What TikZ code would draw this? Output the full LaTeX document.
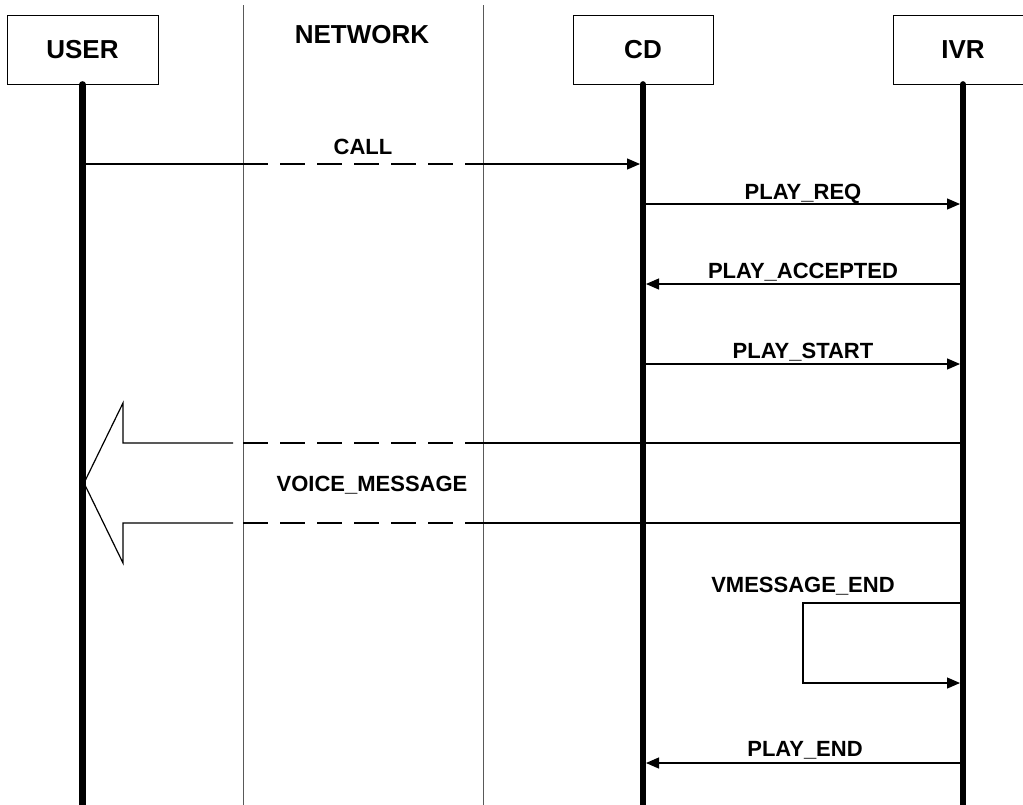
\documentclass[tikz,border=0pt]{standalone}
\usepackage{fontspec}
\setmainfont{Liberation Sans}
\usetikzlibrary{arrows.meta}

\begin{document}
\begin{tikzpicture}[x=1pt,y=-1pt,
  actor/.style={draw, line width=0.8pt, minimum width=140pt, minimum height=69pt, inner sep=0pt, font=\fontsize{26}{30}\selectfont\bfseries},
  lifeline/.style={line width=6.5pt, line cap=round},
  netline/.style={line width=1pt, black!65},
  thin/.style={line width=1.2pt},
  msg/.style={line width=1.2pt, -{Triangle[length=13pt,width=11pt]}, shorten >=3pt},
  netdash/.style={line width=2.5pt, dash pattern=on 25pt off 12pt},
  lbl/.style={anchor=base, inner sep=0pt, font=\fontsize{22}{26}\selectfont\bfseries}]
\useasboundingbox (0,0) rectangle (1023,804);

% actors
\node[actor, minimum width=151pt] (user) at (82.5,49.5) {USER};
\node[actor] (cd) at (643,49.5) {CD};
\node[actor] (ivr) at (963,49.5) {IVR};
\node[lbl, font=\fontsize{26}{30}\selectfont\bfseries] (network) at (362,43) {NETWORK};

% network borders
\coordinate (netL) at (243,5);
\coordinate (netR) at (483,5);
\draw[netline] (netL) -- (netL |- 0,810);
\draw[netline] (netR) -- (netR |- 0,810);

% lifelines
\draw[lifeline] (user.south) -- (user.south |- 0,812);
\draw[lifeline] (cd.south) -- (cd.south |- 0,812);
\draw[lifeline] (ivr.south) -- (ivr.south |- 0,812);

% CALL
\coordinate (u1) at (user |- 0,164);
\coordinate (nl1) at (netL |- 0,164);
\coordinate (nr1) at (netR |- 0,164);
\coordinate (c1) at (cd |- 0,164);
\draw[thin] (u1) -- (nl1);
\draw[netdash] (nl1) -- (nr1);
\draw[msg] (nr1) -- (c1);
\node[lbl] (call) at (363,154) {CALL};

% CD <-> IVR
\coordinate (c2) at (cd |- 0,204);
\coordinate (i2) at (ivr |- 0,204);
\draw[msg] (c2) -- (i2);
\node[lbl] (playreq) at (803,199) {PLAY\_REQ};

\coordinate (c3) at (cd |- 0,284);
\coordinate (i3) at (ivr |- 0,284);
\draw[msg] (i3) -- (c3);
\node[lbl] (playacc) at (803,278) {PLAY\_ACCEPTED};

\coordinate (c4) at (cd |- 0,364);
\coordinate (i4) at (ivr |- 0,364);
\draw[msg] (c4) -- (i4);
\node[lbl] (playstart) at (803,358) {PLAY\_START};

% VOICE_MESSAGE (big arrow)
\coordinate (i5a) at (ivr |- 0,443);
\coordinate (i5b) at (ivr |- 0,523);
\draw[thin] (233,443) -- (123,443) -- (123,403) -- (84,483) -- (123,563) -- (123,523) -- (233,523);
\draw[netdash] (netL |- 0,443) -- (netR |- 0,443);
\draw[netdash] (netL |- 0,523) -- (netR |- 0,523);
\draw[thin] (netR |- 0,443) -- (i5a);
\draw[thin] (netR |- 0,523) -- (i5b);
\node[lbl] (voice) at (372,491) {VOICE\_MESSAGE};

% VMESSAGE_END
\coordinate (i6) at (ivr |- 0,603);
\coordinate (i7) at (ivr |- 0,683);
\draw[msg] (i6) -- (803,603) -- (803,683) -- (i7);
\node[lbl] (vmend) at (803,592) {VMESSAGE\_END};

% PLAY_END
\coordinate (c8) at (cd |- 0,763);
\coordinate (i8) at (ivr |- 0,763);
\draw[msg] (i8) -- (c8);
\node[lbl] (playend) at (805,756) {PLAY\_END};
\end{tikzpicture}
\end{document}
